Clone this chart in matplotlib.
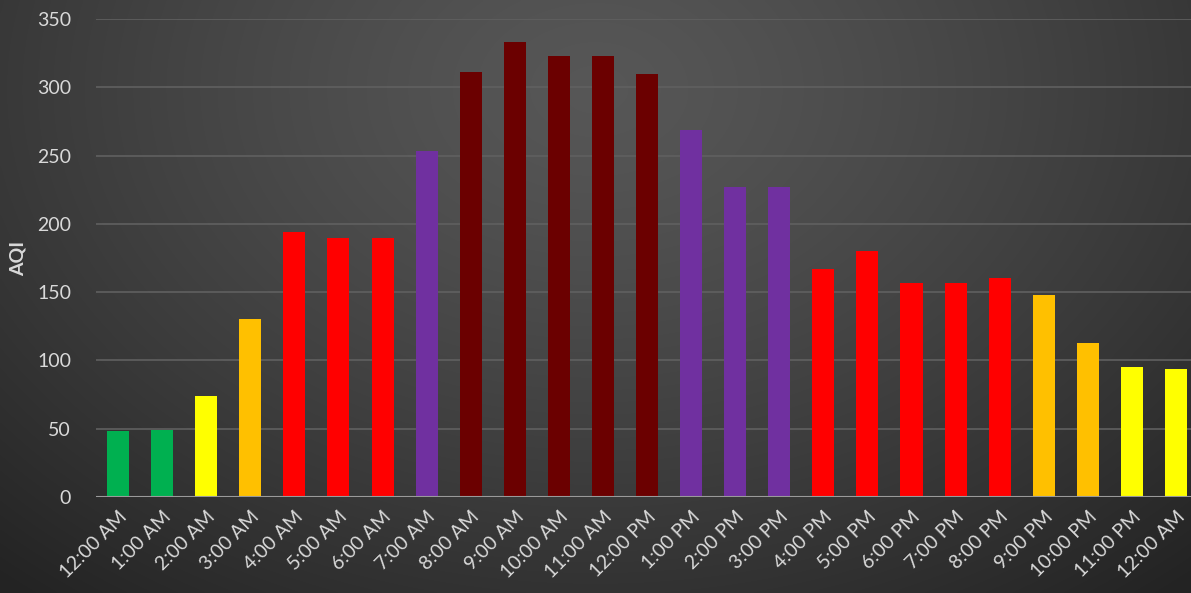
import numpy as np
import matplotlib
matplotlib.use("Agg")
import matplotlib.pyplot as plt

categories = ["12:00 AM", "1:00 AM", "2:00 AM", "3:00 AM", "4:00 AM", "5:00 AM", "6:00 AM",
              "7:00 AM", "8:00 AM", "9:00 AM", "10:00 AM", "11:00 AM", "12:00 PM", "1:00 PM",
              "2:00 PM", "3:00 PM", "4:00 PM", "5:00 PM", "6:00 PM", "7:00 PM", "8:00 PM",
              "9:00 PM", "10:00 PM", "11:00 PM", "12:00 AM"]
aqi = [48, 49, 74, 130, 194, 190, 190, 253, 311, 333, 323, 323, 310, 269, 227, 227,
       167, 180, 157, 157, 160, 148, 113, 95, 94]
bar_colors = ["#00B050", "#00B050", "#FFFF00", "#FFC000", "#FF0000", "#FF0000", "#FF0000",
              "#7030A0", "#6B0000", "#6B0000", "#6B0000", "#6B0000", "#6B0000", "#7030A0",
              "#7030A0", "#7030A0", "#FF0000", "#FF0000", "#FF0000", "#FF0000", "#FF0000",
              "#FFC000", "#FFC000", "#FFFF00", "#FFFF00"]
yticks = [0, 50, 100, 150, 200, 250, 300, 350]

W, H = 1191, 593
fig = plt.figure(figsize=(W / 100, H / 100), dpi=100)

# background radial gradient
bg = fig.add_axes([0, 0, 1, 1], zorder=-10)
yy, xx = np.mgrid[0:1:300j, 0:1:600j]
r = np.sqrt(((xx - 0.5) / 0.75) ** 2 + ((yy - 0.15) / 1.1) ** 2)
val = 0.34 - 0.20 * np.clip(r, 0, 1) ** 1.3
img = np.dstack([val, val, val])
bg.imshow(img, extent=[0, 1, 1, 0], aspect="auto", interpolation="bicubic")
bg.set_axis_off()

left = 96 / W
right_px = 96 + 25 * 44.08
ax_w_px = right_px - 96
ax = fig.add_axes([left, (H - 497) / H, ax_w_px / W, (497 - 19) / H])
ax.patch.set_alpha(0)
x = np.arange(len(categories))
ax.bar(x, aqi, width=0.5, color=bar_colors, zorder=3)
ax.set_xlim(-0.5, len(categories) - 0.5)
ax.set_ylim(0, 350)
ax.set_yticks(yticks)
ax.yaxis.grid(True, color="#606060", linewidth=1.2, zorder=0)
ax.axhline(0, color="#9a9a9a", linewidth=1.5, zorder=4)
for s in ax.spines.values():
    s.set_visible(False)
ax.tick_params(axis="both", length=0, colors="#d9d9d9", labelsize=14)
ax.tick_params(axis="y", pad=18)
ax.set_xticks(x)
ax.set_xticklabels(categories, rotation=45, ha="right", rotation_mode="anchor",
                   fontfamily="Lato", color="#d9d9d9", fontsize=14)
for lab in ax.get_yticklabels():
    lab.set_fontfamily("Lato")
ax.set_ylabel("AQI", fontfamily="Lato", fontweight="bold", fontsize=14, color="#d9d9d9")
ax.yaxis.set_label_coords((27 - 96) / ax_w_px, 0.5)
ax.tick_params(axis="x", pad=8)

fig.savefig("out.png", dpi=100)
